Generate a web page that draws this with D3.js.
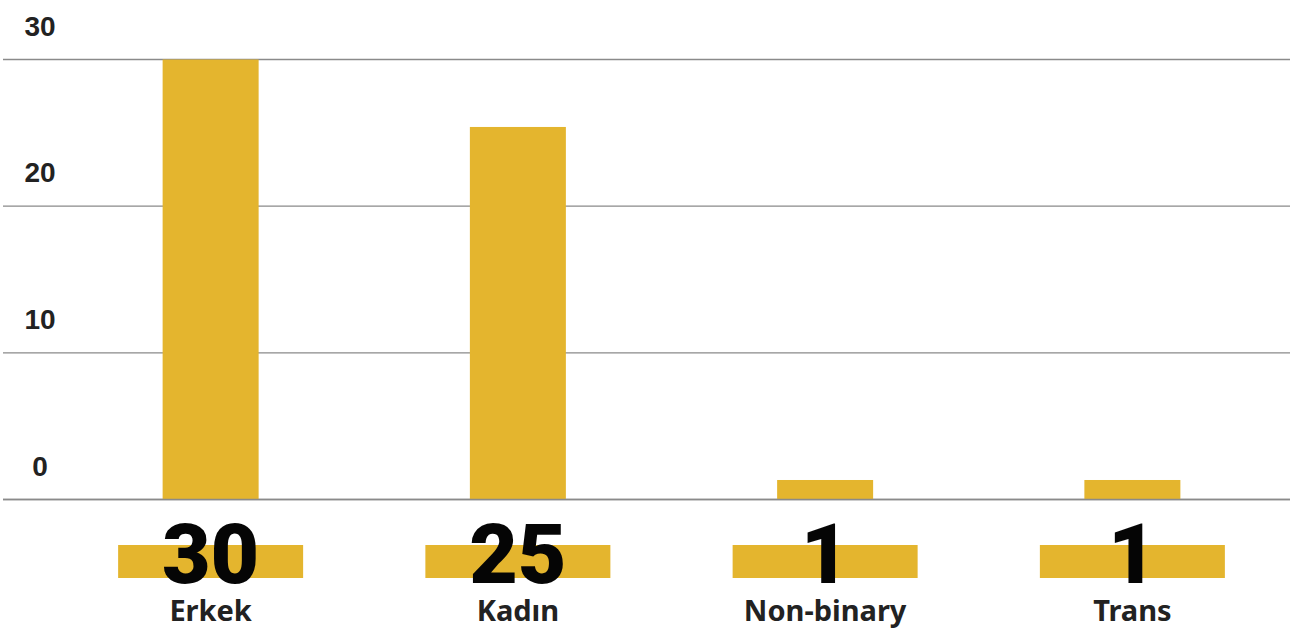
<!DOCTYPE html>
<html>
<head>
<meta charset="utf-8">
<script src="https://cdn.jsdelivr.net/npm/d3@7"></script>
<style>
  body { margin: 0; background: #fff; }
  .tickLabel { font-family: "Liberation Sans", Arial, sans-serif; font-weight: 700; font-size: 28px; fill: #222; }
  .bigNumber { font-family: Roboto, Lato, sans-serif; font-weight: 900; font-size: 84px; fill: #050505; }
  .catLabel { font-family: "Noto Sans", "Open Sans", sans-serif; font-weight: 700; font-size: 29px; fill: #222; }
</style>
</head>
<body>
<div id="chart"></div>
<script>

/// data

const categories = ["Erkek", "Kadın", "Non-binary", "Trans"];
const values = [30, 25.4, 1.33, 1.33];
const yTicks = [0, 10, 20, 30];

///////////////////////////////////////////////////////////////

const width = 1290;
const height = 628;
const barColour = "#e4b52e";

const margin = { top: 60, right: 2, bottom: 129, left: 3 };

const svg = d3.select("#chart").append("svg")
  .attr("width", width)
  .attr("height", height);

let y = d3.scaleLinear()
  .domain([0, 30])
  .range([height - margin.bottom + 0.5, margin.top - 0.5]);

let x = d3.scalePoint()
  .domain(categories)
  .range([57, 1286])
  .padding(0.5);

const barWidth = 96;
const highlightWidth = 185;

// gridlines + tick labels
let grid = svg.append("g").attr("class", "grid");

grid.selectAll("line")
  .data(yTicks)
  .enter()
  .append("line")
  .attr("x1", margin.left)
  .attr("x2", width - margin.right + 2)
  .attr("y1", d => y(d))
  .attr("y2", d => y(d))
  .style("stroke", "#8a8a8a")
  .style("stroke-width", 1.3);

grid.selectAll("text")
  .data(yTicks)
  .enter()
  .append("text")
  .attr("class", "tickLabel")
  .attr("x", 40)
  .attr("y", d => y(d) - 24)
  .style("text-anchor", "middle")
  .text(d => d);

// bars
svg.selectAll("rect.bar")
  .data(categories)
  .enter()
  .append("rect")
  .attr("class", "bar")
  .attr("x", d => x(d) - barWidth / 2)
  .attr("width", barWidth)
  .attr("y", (d, i) => y(values[i]))
  .attr("height", (d, i) => y(0) - y(values[i]))
  .style("fill", barColour);

// redraw the baseline over the bars
svg.append("line")
  .attr("x1", margin.left)
  .attr("x2", width)
  .attr("y1", y(0))
  .attr("y2", y(0))
  .style("stroke", "#8a8a8a")
  .style("stroke-width", 1.3);

// highlight strips under the big numbers
svg.selectAll("rect.highlight")
  .data(categories)
  .enter()
  .append("rect")
  .attr("class", "highlight")
  .attr("x", d => x(d) - highlightWidth / 2)
  .attr("width", highlightWidth)
  .attr("y", 545)
  .attr("height", 33)
  .style("fill", barColour);

svg.selectAll("text.bigNumber")
  .data(categories)
  .enter()
  .append("text")
  .attr("class", "bigNumber")
  .attr("x", d => x(d))
  .attr("y", 583)
  .style("text-anchor", "middle")
  .text((d, i) => d3.format(".0f")(values[i]));

svg.selectAll("text.catLabel")
  .data(categories)
  .enter()
  .append("text")
  .attr("class", "catLabel")
  .attr("x", d => x(d))
  .attr("y", 621)
  .style("text-anchor", "middle")
  .text(d => d);

</script>
</body>
</html>
